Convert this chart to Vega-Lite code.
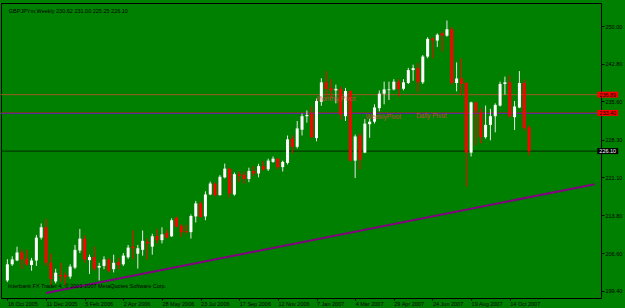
{
  "$schema": "https://vega.github.io/schema/vega-lite/v6.json",
  "width": 600,
  "height": 295,
  "autosize": {"type": "none"},
  "padding": {"left": 1, "top": 3, "right": 24, "bottom": 10},
  "background": "#008000",
  "config": {"view": {"fill": "#008000", "stroke": "#000000", "strokeWidth": 1}, "font": "Liberation Sans"},
  "datasets": {
    "candles": [
      {"d":"2005-10-16","o":201.38,"h":205.44,"l":201.07,"c":204.46},
      {"d":"2005-10-23","o":204.46,"h":206.00,"l":204.15,"c":205.39},
      {"d":"2005-10-30","o":205.20,"h":207.84,"l":205.07,"c":206.73},
      {"d":"2005-11-06","o":206.73,"h":207.29,"l":203.60,"c":205.39},
      {"d":"2005-11-13","o":205.50,"h":207.23,"l":204.15,"c":204.46},
      {"d":"2005-11-20","o":204.33,"h":205.68,"l":203.23,"c":205.20},
      {"d":"2005-11-27","o":205.20,"h":210.06,"l":204.15,"c":209.56},
      {"d":"2005-12-04","o":209.56,"h":212.27,"l":209.19,"c":211.54},
      {"d":"2005-12-11","o":211.54,"h":213.07,"l":204.15,"c":204.76},
      {"d":"2005-12-18","o":204.76,"h":206.55,"l":200.46,"c":201.69},
      {"d":"2005-12-25","o":201.19,"h":203.60,"l":200.83,"c":202.86},
      {"d":"2006-01-01","o":202.43,"h":204.76,"l":201.07,"c":202.17},
      {"d":"2006-01-08","o":202.43,"h":202.91,"l":200.46,"c":201.99},
      {"d":"2006-01-15","o":202.12,"h":204.46,"l":201.69,"c":204.02},
      {"d":"2006-01-22","o":203.84,"h":208.16,"l":203.54,"c":207.23},
      {"d":"2006-01-29","o":207.10,"h":211.22,"l":206.61,"c":209.38},
      {"d":"2006-02-05","o":209.38,"h":209.99,"l":204.76,"c":205.39},
      {"d":"2006-02-12","o":205.26,"h":206.31,"l":202.62,"c":205.87},
      {"d":"2006-02-19","o":205.87,"h":207.84,"l":203.23,"c":203.65},
      {"d":"2006-02-26","o":203.84,"h":204.76,"l":201.38,"c":204.15},
      {"d":"2006-03-05","o":204.15,"h":206.00,"l":203.54,"c":205.39},
      {"d":"2006-03-12","o":205.39,"h":205.68,"l":202.91,"c":203.23},
      {"d":"2006-03-19","o":203.54,"h":206.31,"l":202.91,"c":204.76},
      {"d":"2006-03-26","o":204.89,"h":205.68,"l":203.54,"c":204.28},
      {"d":"2006-04-02","o":204.46,"h":206.61,"l":204.15,"c":206.13},
      {"d":"2006-04-09","o":205.81,"h":208.16,"l":205.50,"c":207.66},
      {"d":"2006-04-16","o":207.84,"h":210.98,"l":205.44,"c":207.53},
      {"d":"2006-04-23","o":206.49,"h":208.16,"l":203.65,"c":207.53},
      {"d":"2006-04-30","o":207.23,"h":210.93,"l":206.13,"c":208.95},
      {"d":"2006-05-07","o":208.77,"h":209.38,"l":205.39,"c":208.45},
      {"d":"2006-05-14","o":207.84,"h":210.30,"l":206.31,"c":209.82},
      {"d":"2006-05-21","o":209.87,"h":211.22,"l":208.45,"c":209.08},
      {"d":"2006-05-28","o":209.08,"h":211.54,"l":208.45,"c":210.19},
      {"d":"2006-06-04","o":210.48,"h":211.04,"l":209.40,"c":209.56},
      {"d":"2006-06-11","o":209.82,"h":213.25,"l":209.69,"c":212.88},
      {"d":"2006-06-18","o":213.38,"h":213.57,"l":211.54,"c":211.66},
      {"d":"2006-06-25","o":211.85,"h":212.14,"l":209.69,"c":210.61},
      {"d":"2006-07-02","o":210.80,"h":212.03,"l":210.30,"c":210.61},
      {"d":"2006-07-09","o":210.61,"h":214.00,"l":209.38,"c":213.70},
      {"d":"2006-07-16","o":213.62,"h":216.58,"l":212.46,"c":216.10},
      {"d":"2006-07-23","o":216.10,"h":216.47,"l":213.38,"c":213.51},
      {"d":"2006-07-30","o":213.62,"h":218.42,"l":212.88,"c":217.81},
      {"d":"2006-08-06","o":217.81,"h":220.27,"l":217.68,"c":219.90},
      {"d":"2006-08-13","o":219.85,"h":220.16,"l":217.39,"c":217.69},
      {"d":"2006-08-20","o":217.69,"h":221.51,"l":217.57,"c":221.19},
      {"d":"2006-08-27","o":221.08,"h":223.72,"l":220.90,"c":222.75},
      {"d":"2006-09-03","o":222.75,"h":222.93,"l":217.20,"c":218.00},
      {"d":"2006-09-10","o":217.81,"h":222.01,"l":217.57,"c":221.69},
      {"d":"2006-09-17","o":221.69,"h":222.19,"l":220.16,"c":221.38},
      {"d":"2006-09-24","o":221.56,"h":222.19,"l":219.85,"c":220.77},
      {"d":"2006-10-01","o":220.77,"h":222.93,"l":220.16,"c":222.30},
      {"d":"2006-10-08","o":222.30,"h":223.23,"l":221.38,"c":221.82},
      {"d":"2006-10-15","o":221.82,"h":223.67,"l":221.08,"c":223.23},
      {"d":"2006-10-22","o":223.23,"h":224.15,"l":222.30,"c":222.62},
      {"d":"2006-10-29","o":222.62,"h":224.65,"l":222.30,"c":224.28},
      {"d":"2006-11-05","o":224.04,"h":225.07,"l":223.85,"c":224.65},
      {"d":"2006-11-12","o":224.65,"h":224.78,"l":222.62,"c":223.04},
      {"d":"2006-11-19","o":223.04,"h":224.28,"l":222.19,"c":224.04},
      {"d":"2006-11-26","o":223.85,"h":229.08,"l":223.54,"c":228.34},
      {"d":"2006-12-03","o":228.47,"h":229.08,"l":225.70,"c":226.92},
      {"d":"2006-12-10","o":226.92,"h":231.85,"l":226.62,"c":230.43},
      {"d":"2006-12-17","o":230.19,"h":233.27,"l":229.08,"c":232.77},
      {"d":"2006-12-24","o":232.77,"h":233.88,"l":231.54,"c":233.01},
      {"d":"2006-12-31","o":233.27,"h":234.62,"l":228.59,"c":228.77},
      {"d":"2007-01-07","o":228.59,"h":236.15,"l":227.97,"c":235.67},
      {"d":"2007-01-14","o":235.54,"h":240.03,"l":234.75,"c":239.24},
      {"d":"2007-01-21","o":239.24,"h":241.40,"l":236.15,"c":238.00},
      {"d":"2007-01-28","o":238.13,"h":239.85,"l":236.15,"c":237.70},
      {"d":"2007-02-04","o":237.70,"h":238.81,"l":235.23,"c":238.00},
      {"d":"2007-02-11","o":238.00,"h":238.44,"l":232.16,"c":233.09},
      {"d":"2007-02-18","o":232.77,"h":238.18,"l":231.85,"c":237.57},
      {"d":"2007-02-25","o":237.57,"h":237.70,"l":224.09,"c":224.28},
      {"d":"2007-03-04","o":224.28,"h":229.26,"l":220.95,"c":228.89},
      {"d":"2007-03-11","o":229.08,"h":229.63,"l":222.62,"c":224.46},
      {"d":"2007-03-18","o":225.81,"h":232.22,"l":225.70,"c":231.35},
      {"d":"2007-03-25","o":231.24,"h":232.35,"l":228.65,"c":231.72},
      {"d":"2007-04-01","o":231.72,"h":235.04,"l":231.35,"c":234.43},
      {"d":"2007-04-08","o":234.31,"h":237.70,"l":233.70,"c":237.08},
      {"d":"2007-04-15","o":237.08,"h":239.37,"l":235.04,"c":237.89},
      {"d":"2007-04-22","o":237.76,"h":239.37,"l":235.86,"c":237.89},
      {"d":"2007-04-29","o":237.89,"h":239.85,"l":237.70,"c":239.37},
      {"d":"2007-05-06","o":239.37,"h":239.85,"l":236.47,"c":238.00},
      {"d":"2007-05-13","o":238.00,"h":239.85,"l":237.70,"c":239.24},
      {"d":"2007-05-20","o":239.11,"h":242.01,"l":238.92,"c":241.58},
      {"d":"2007-05-27","o":241.58,"h":242.62,"l":239.55,"c":241.95},
      {"d":"2007-06-03","o":241.95,"h":242.93,"l":237.39,"c":239.24},
      {"d":"2007-06-10","o":239.24,"h":244.46,"l":238.92,"c":244.17},
      {"d":"2007-06-17","o":244.17,"h":247.86,"l":243.85,"c":247.55},
      {"d":"2007-06-24","o":247.55,"h":247.86,"l":243.85,"c":247.23},
      {"d":"2007-07-01","o":247.23,"h":248.60,"l":246.01,"c":248.34},
      {"d":"2007-07-08","o":248.60,"h":248.97,"l":245.09,"c":248.16},
      {"d":"2007-07-15","o":248.16,"h":251.06,"l":247.97,"c":249.39},
      {"d":"2007-07-22","o":249.39,"h":249.82,"l":238.80,"c":239.11},
      {"d":"2007-07-29","o":239.11,"h":243.06,"l":237.52,"c":239.97},
      {"d":"2007-08-05","o":239.97,"h":243.85,"l":236.78,"c":238.92},
      {"d":"2007-08-12","o":239.11,"h":239.30,"l":219.29,"c":225.81},
      {"d":"2007-08-19","o":225.81,"h":235.54,"l":225.07,"c":235.41},
      {"d":"2007-08-26","o":235.41,"h":235.54,"l":227.23,"c":233.70},
      {"d":"2007-09-02","o":233.38,"h":234.31,"l":227.55,"c":228.77},
      {"d":"2007-09-09","o":228.77,"h":234.80,"l":228.47,"c":231.11},
      {"d":"2007-09-16","o":231.11,"h":234.19,"l":228.16,"c":232.77},
      {"d":"2007-09-23","o":232.77,"h":235.23,"l":229.69,"c":234.93},
      {"d":"2007-09-30","o":234.80,"h":239.37,"l":234.62,"c":238.92},
      {"d":"2007-10-07","o":238.92,"h":240.34,"l":236.89,"c":239.24},
      {"d":"2007-10-14","o":239.24,"h":240.58,"l":232.46,"c":232.77},
      {"d":"2007-10-21","o":232.59,"h":235.67,"l":230.13,"c":234.62},
      {"d":"2007-10-28","o":234.43,"h":241.40,"l":234.31,"c":239.11},
      {"d":"2007-11-04","o":239.11,"h":239.74,"l":230.00,"c":230.50},
      {"d":"2007-11-11","o":230.62,"h":231.00,"l":225.25,"c":226.10}
    ],
    "levels": [
      {"p":236.89,"k":"Monthly"},
      {"p":233.40,"k":"Weekly"},
      {"p":233.28,"k":"Daily"},
      {"p":226.10,"k":"Bid"}
    ],
    "trend": [
      {"d":"2005-12-11","p":199.00},
      {"d":"2008-02-14","p":219.77}
    ],
    "pivots": [
      {"d":"2007-01-07","p":236.15,"t":"Monthly Pivot"},
      {"d":"2007-03-19","p":232.68,"t":"WeeklyPivot"},
      {"d":"2007-05-31","p":232.77,"t":"Daily Pivot"}
    ],
    "notes": [
      {"d":"2005-10-18","p":252.8,"t":"GBPJPYm,Weekly  230.62 231.00 225.25 226.10"},
      {"d":"2005-10-17","p":200.27,"t":"Interbank FX Trader 4, © 2001-2007 MetaQuotes Software Corp."}
    ]
  },
  "layer": [
    {
      "data": {"name": "trend"},
      "mark": {"type": "line", "color": "#800080", "strokeWidth": 2},
      "encoding": {
        "x": {"field": "d", "type": "temporal", "scale": {"type": "utc", "domain": [{"year":2005,"month":10,"date":14,"utc":true},{"year":2008,"month":2,"date":16,"utc":true}]},
          "axis": {"values": [
            {"year":2005,"month":10,"date":16,"utc":true},{"year":2005,"month":12,"date":11,"utc":true},
            {"year":2006,"month":2,"date":5,"utc":true},{"year":2006,"month":4,"date":2,"utc":true},
            {"year":2006,"month":5,"date":28,"utc":true},{"year":2006,"month":7,"date":23,"utc":true},
            {"year":2006,"month":9,"date":17,"utc":true},{"year":2006,"month":11,"date":12,"utc":true},
            {"year":2007,"month":1,"date":7,"utc":true},{"year":2007,"month":3,"date":4,"utc":true},
            {"year":2007,"month":4,"date":29,"utc":true},{"year":2007,"month":6,"date":24,"utc":true},
            {"year":2007,"month":8,"date":19,"utc":true},{"year":2007,"month":10,"date":14,"utc":true}],
            "labelExpr": "utcFormat(datum.value, '%-d %b %Y')",
            "labelAlign": "left", "labelBaseline": "top", "labelPadding": 1, "tickSize": 2,
            "domain": false, "grid": false, "labelFontSize": 5.5, "labelColor": "#000000",
            "tickColor": "#000000", "title": null, "labelOverlap": false, "labelFlush": false}},
        "y": {"field": "p", "type": "quantitative", "scale": {"domain": [198.98, 253.45], "zero": false, "nice": false},
          "axis": {"orient": "right",
            "values": [199.4, 203.0, 206.6, 210.2, 213.8, 217.5, 221.1, 224.7, 228.3, 231.9, 235.6, 239.2, 242.8, 246.4, 250.0],
            "format": ".2f", "labelFontSize": 5.5, "labelColor": "#000000", "tickColor": "#000000",
            "tickSize": 3, "labelPadding": 1, "domain": false, "grid": false, "title": null, "labelOverlap": false, "labelFlush": false}}
      }
    },
    {
      "data": {"name": "levels"},
      "mark": {"type": "rule", "strokeWidth": 1},
      "encoding": {
        "y": {"field": "p", "type": "quantitative", "scale": {"domain": [198.98, 253.45], "zero": false, "nice": false}},
        "color": {"field": "k", "type": "nominal", "legend": null,
          "scale": {"domain": ["Monthly", "Weekly", "Daily", "Bid"], "range": ["#9A5A28", "#B02020", "#5030A0", "#002800"]}}
      }
    },
    {
      "data": {"name": "candles"},
      "mark": {"type": "rule", "strokeWidth": 1},
      "encoding": {
        "x": {"field": "d", "type": "temporal", "scale": {"type": "utc", "domain": [{"year":2005,"month":10,"date":14,"utc":true},{"year":2008,"month":2,"date":16,"utc":true}]}},
        "y": {"field": "l", "type": "quantitative", "scale": {"domain": [198.98, 253.45], "zero": false, "nice": false}},
        "y2": {"field": "h"},
        "color": {"condition": {"test": "datum.c >= datum.o", "value": "#E8E8E8"}, "value": "#FF0000"}
      }
    },
    {
      "data": {"name": "candles"},
      "mark": {"type": "bar", "size": 3},
      "encoding": {
        "x": {"field": "d", "type": "temporal", "scale": {"type": "utc", "domain": [{"year":2005,"month":10,"date":14,"utc":true},{"year":2008,"month":2,"date":16,"utc":true}]}},
        "y": {"field": "o", "type": "quantitative", "scale": {"domain": [198.98, 253.45], "zero": false, "nice": false}},
        "y2": {"field": "c"},
        "color": {"condition": {"test": "datum.c >= datum.o", "value": "#FFFFFF"}, "value": "#FF0000"}
      }
    },
    {
      "data": {"name": "pivots"},
      "mark": {"type": "text", "align": "left", "baseline": "middle", "fontSize": 6.5, "color": "#D84848", "opacity": 0.85},
      "encoding": {
        "x": {"field": "d", "type": "temporal", "scale": {"type": "utc", "domain": [{"year":2005,"month":10,"date":14,"utc":true},{"year":2008,"month":2,"date":16,"utc":true}]}},
        "y": {"field": "p", "type": "quantitative", "scale": {"domain": [198.98, 253.45], "zero": false, "nice": false}},
        "text": {"field": "t"}
      }
    },
    {
      "data": {"name": "notes"},
      "mark": {"type": "text", "align": "left", "baseline": "middle", "fontSize": 5.5, "color": "#000000"},
      "encoding": {
        "x": {"field": "d", "type": "temporal", "scale": {"type": "utc", "domain": [{"year":2005,"month":10,"date":14,"utc":true},{"year":2008,"month":2,"date":16,"utc":true}]}},
        "y": {"field": "p", "type": "quantitative", "scale": {"domain": [198.98, 253.45], "zero": false, "nice": false}},
        "text": {"field": "t"}
      }
    },
    {
      "data": {"name": "levels"},
      "transform": [{"filter": "datum.k != 'Daily'"}],
      "mark": {"type": "bar", "orient": "horizontal", "width": 21, "height": 6},
      "encoding": {
        "x": {"datum": {"year":2008,"month":3,"date":4,"utc":true}, "type": "temporal", "scale": {"type": "utc", "domain": [{"year":2005,"month":10,"date":14,"utc":true},{"year":2008,"month":2,"date":16,"utc":true}]}},
        "y": {"field": "p", "type": "quantitative", "scale": {"domain": [198.98, 253.45], "zero": false, "nice": false}},
        "color": {"field": "k", "type": "nominal", "legend": null,
          "scale": {"domain": ["Monthly", "Weekly", "Daily", "Bid"], "range": ["#FF0000", "#FF0000", "#5030A0", "#000000"]}}
      }
    },
    {
      "data": {"name": "levels"},
      "transform": [{"filter": "datum.k != 'Daily'"}],
      "mark": {"type": "text", "align": "center", "baseline": "middle", "fontSize": 5.5},
      "encoding": {
        "x": {"datum": {"year":2008,"month":3,"date":4,"utc":true}, "type": "temporal", "scale": {"type": "utc", "domain": [{"year":2005,"month":10,"date":14,"utc":true},{"year":2008,"month":2,"date":16,"utc":true}]}},
        "y": {"field": "p", "type": "quantitative", "scale": {"domain": [198.98, 253.45], "zero": false, "nice": false}},
        "text": {"field": "p", "format": ".2f"},
        "color": {"condition": {"test": "datum.k == 'Bid'", "value": "#FFFFFF"}, "value": "#000000"}
      }
    }
  ],
  "resolve": {"scale": {"color": "independent"}}
}
